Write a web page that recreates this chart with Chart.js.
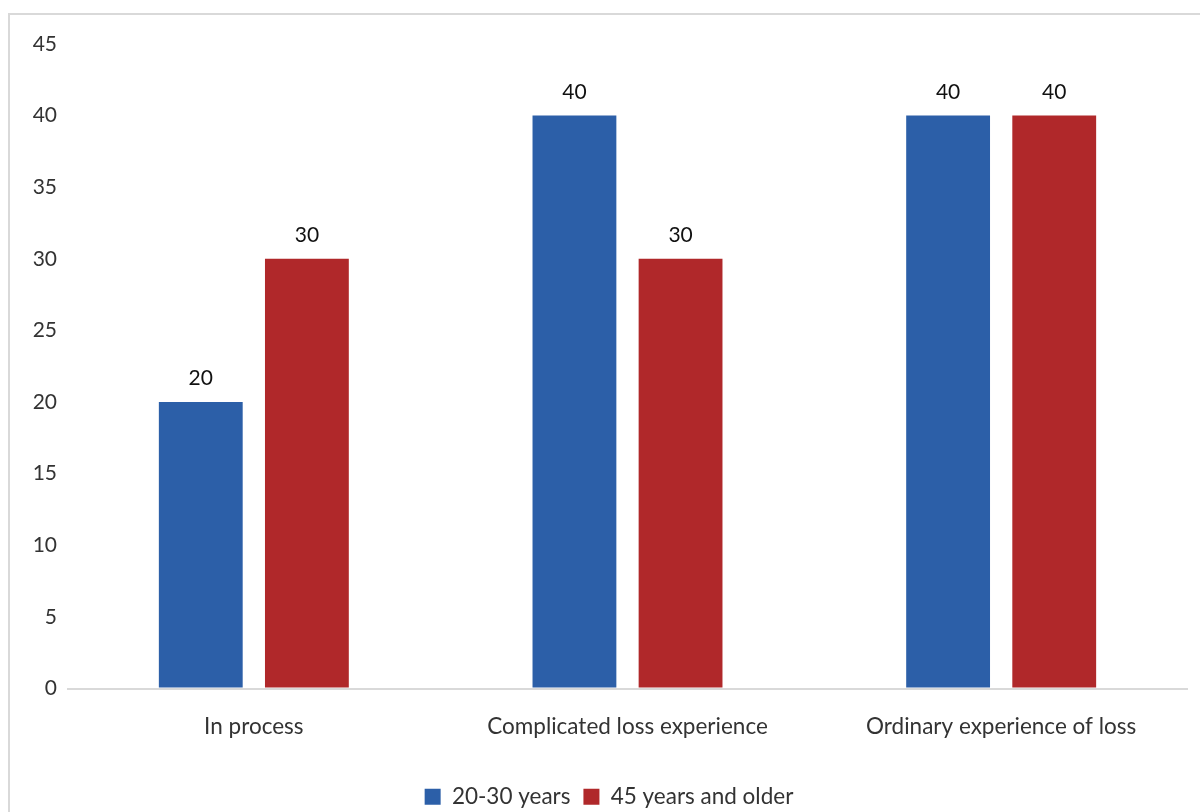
<!DOCTYPE html>
<html>
<head>
<meta charset="utf-8">
<script src="https://cdn.jsdelivr.net/npm/chart.js@4.4.1/dist/chart.umd.min.js"></script>
<style>
  html, body { margin: 0; padding: 0; background: #ffffff; }
  #wrap { position: relative; width: 1200px; height: 812px; overflow: hidden; }
  #frame { position: absolute; left: 8px; top: 13px; width: 1200px; height: 820px;
           border-left: 2px solid #d9d9d9; border-top: 2px solid #d9d9d9; box-sizing: border-box; }
  canvas { position: absolute; left: 0; top: 0; }
</style>
</head>
<body>
<div id="wrap">
  <div id="frame"></div>
  <canvas id="chart" width="1200" height="812"></canvas>
</div>
<script>
// Categories, series and axis ticks
const categories = ["In process", "Complicated loss experience", "Ordinary experience of loss"];
const seriesNames = ["20-30 years", "45 years and older"];
const youngValues = [20, 40, 40];
const olderValues = [30, 30, 40];
const yTickValues = [0, 5, 10, 15, 20, 25, 30, 35, 40, 45];

const FONT = "Lato, 'Open Sans', sans-serif";

// Writes each bar's value just above it
const valueLabels = {
  id: "valueLabels",
  afterDatasetsDraw(chart) {
    const ctx = chart.ctx;
    ctx.save();
    ctx.font = "21px " + FONT;
    ctx.fillStyle = "#111111";
    ctx.textAlign = "center";
    ctx.textBaseline = "bottom";
    chart.data.datasets.forEach((ds, i) => {
      chart.getDatasetMeta(i).data.forEach((bar, j) => {
        ctx.fillText(String(ds.data[j]), bar.x, bar.y - 13);
      });
    });
    ctx.restore();
  }
};

new Chart(document.getElementById("chart"), {
  type: "bar",
  data: {
    labels: categories,
    datasets: [
      { label: seriesNames[0], data: youngValues, backgroundColor: "#2c5fa8" },
      { label: seriesNames[1], data: olderValues, backgroundColor: "#b0282a" }
    ]
  },
  options: {
    responsive: false,
    animation: false,
    devicePixelRatio: 1,
    layout: { padding: { left: 30, right: 12, top: 44, bottom: -6 } },
    datasets: { bar: { categoryPercentage: 0.568, barPercentage: 0.79 } },
    scales: {
      x: {
        grid: { display: false },
        border: { display: false },
        ticks: { color: "#333333", font: { family: FONT, size: 22.5 }, padding: 17 },
        afterFit(scale) { scale.height = 84; }
      },
      y: {
        min: 0,
        max: 45,
        afterBuildTicks(scale) { scale.ticks = yTickValues.map(v => ({ value: v })); },
        grid: {
          drawTicks: false,
          lineWidth: 2,
          color: c => (c.tick && c.tick.value === 0 ? "#d9d9d9" : "rgba(0,0,0,0)")
        },
        border: { display: false },
        ticks: { color: "#333333", font: { family: FONT, size: 21 }, padding: 10 },
        afterFit(scale) { scale.width = 37; }
      }
    },
    plugins: {
      legend: {
        position: "bottom",
        labels: {
          color: "#333333",
          font: { family: FONT, size: 22.5 },
          boxWidth: 16,
          boxHeight: 16,
          padding: 13
        }
      },
      tooltip: { enabled: false }
    }
  },
  plugins: [valueLabels]
});
</script>
</body>
</html>
